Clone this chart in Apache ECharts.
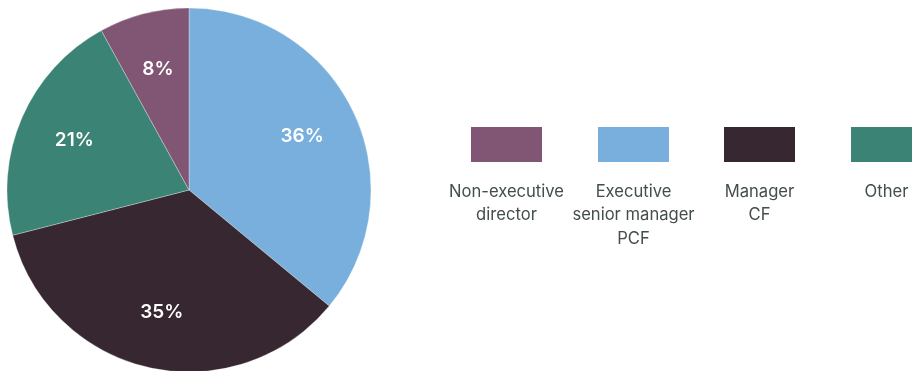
<!DOCTYPE html>
<html>
<head>
<meta charset="utf-8">
<script src="https://cdn.jsdelivr.net/npm/echarts@6/dist/echarts.min.js"></script>
<style>
  html, body { margin: 0; padding: 0; background: #ffffff; }
  #chart { width: 912px; height: 371px; }
</style>
</head>
<body>
<div id="chart"></div>
<script>
// Role breakdown (percent of respondents), drawn clockwise from 12 o'clock
const categories = ['Executive senior manager PCF', 'Manager CF', 'Other', 'Non-executive director'];
const shares = [36, 35, 21, 8];
const colors = ['#79afdc', '#372730', '#3b8374', '#815574'];

// Legend order and the wrapped text shown under each swatch
const legendOrder = ['Non-executive director', 'Executive senior manager PCF', 'Manager CF', 'Other'];
const legendLines = [['Non-executive', 'director'], ['Executive', 'senior manager', 'PCF'], ['Manager', 'CF'], ['Other']];

const FONT = 'Inter, "Noto Sans", sans-serif';
const center = [189, 190];
const outerR = 182;

const pieData = categories.map((name, i) => ({
  name,
  value: shares[i],
  itemStyle: { color: colors[i] }
}));

// Legend swatches and captions
const swatchX = [471, 598, 724, 851];
const swatchW = 71, swatchH = 35, swatchY = 127;
const graphic = [];
legendOrder.forEach((name, k) => {
  const idx = categories.indexOf(name);
  graphic.push({
    type: 'rect',
    shape: { x: swatchX[k], y: swatchY, width: swatchW, height: swatchH },
    style: { fill: colors[idx] },
    silent: true
  });
  graphic.push({
    type: 'text',
    x: swatchX[k] + swatchW / 2,
    y: 180,
    style: {
      text: legendLines[k].join('\n'),
      fill: '#434e4c',
      font: '400 16.6px ' + FONT,
      align: 'center',
      verticalAlign: 'top',
      lineHeight: 23.5
    },
    silent: true
  });
});

const chart = echarts.init(document.getElementById('chart'), null, { renderer: 'canvas' });
chart.setOption({
  animation: false,
  backgroundColor: '#ffffff',
  series: [
    {
      type: 'pie',
      center: center,
      radius: [0, outerR],
      startAngle: 90,
      clockwise: true,
      silent: true,
      data: pieData,
      itemStyle: { borderColor: 'rgba(255,255,255,0.6)', borderWidth: 0.5 },
      label: { show: false },
      labelLine: { show: false }
    },
    {
      // transparent ring that carries the percentage labels further out
      type: 'pie',
      center: center,
      radius: [62, outerR],
      startAngle: 90,
      clockwise: true,
      silent: true,
      data: pieData.map(d => ({ name: d.name, value: d.value, itemStyle: { color: 'rgba(0,0,0,0)' } })),
      label: {
        show: true,
        position: 'inside',
        formatter: '{c}%',
        color: '#ffffff',
        fontFamily: FONT,
        fontSize: 19,
        fontWeight: 600
      },
      labelLine: { show: false }
    }
  ],
  graphic: graphic
});
</script>
</body>
</html>
